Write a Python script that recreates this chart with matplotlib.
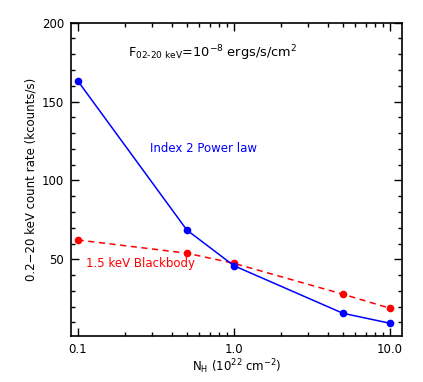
import matplotlib
matplotlib.use("Agg")
import matplotlib.pyplot as plt
from matplotlib.ticker import FixedLocator, LogLocator, NullFormatter, MultipleLocator

plt.rcParams['font.family'] = ['DejaVu Sans']
plt.rcParams['mathtext.default'] = 'regular'

nh = [0.1, 0.5, 1.0, 5.0, 10.0]
powerlaw = [163.2, 68.6, 46.0, 15.8, 9.5]
blackbody = [62.3, 53.9, 47.5, 27.9, 19.0]
xticks = [0.1, 1.0, 10.0]
xticklabels = ["0.1", "1.0", "10.0"]
yticks = [50, 100, 150, 200]

fig = plt.figure(figsize=(4.23, 3.82), dpi=100)
ax = fig.add_axes([71/423, 1-335.7/382, (402.3-71)/423, (335.7-22.7)/382])

ax.plot(nh, powerlaw, '-', color='blue', lw=1.1, marker='o', ms=4.5, zorder=3)
ax.plot(nh, blackbody, '--', color='red', lw=1.1, marker='o', ms=4.5, dashes=(4, 3), zorder=2)

ax.set_xscale('log')
ax.set_xlim(0.0906, 12.0)
ax.set_ylim(1.6, 200)

ax.xaxis.set_major_locator(FixedLocator(xticks))
ax.set_xticklabels(xticklabels)
ax.xaxis.set_minor_locator(LogLocator(base=10, subs=range(2, 10)))
ax.xaxis.set_minor_formatter(NullFormatter())
ax.yaxis.set_major_locator(FixedLocator(yticks))
ax.yaxis.set_minor_locator(MultipleLocator(10))

ax.tick_params(which='both', direction='in', top=True, right=True, labelsize=8.5, width=1, colors='black')
ax.tick_params(which='major', length=6, pad=5)
ax.tick_params(which='minor', length=3)
for s in ax.spines.values():
    s.set_linewidth(1.2)

ax.set_xlabel("N$_H$ (10$^{22}$ cm$^{-2}$)", fontsize=8.5, labelpad=1)
ax.set_ylabel("0.2\u221220 keV count rate (kcounts/s)", fontsize=8.5, labelpad=3)

fig.text(212/423, 1-53/382, "F$_{02\u201020\\ keV}$=10$^{\u22128}$ ergs/s/cm$^2$",
         fontsize=9.3, ha='center', va='center')
fig.text(203/423, 1-149/382, "Index 2 Power law", color='blue', fontsize=8.5, ha='center', va='center')
fig.text(140/423, 1-264/382, "1.5 keV Blackbody", color='red', fontsize=8.5, ha='center', va='center')

fig.savefig("out.png", dpi=100)
